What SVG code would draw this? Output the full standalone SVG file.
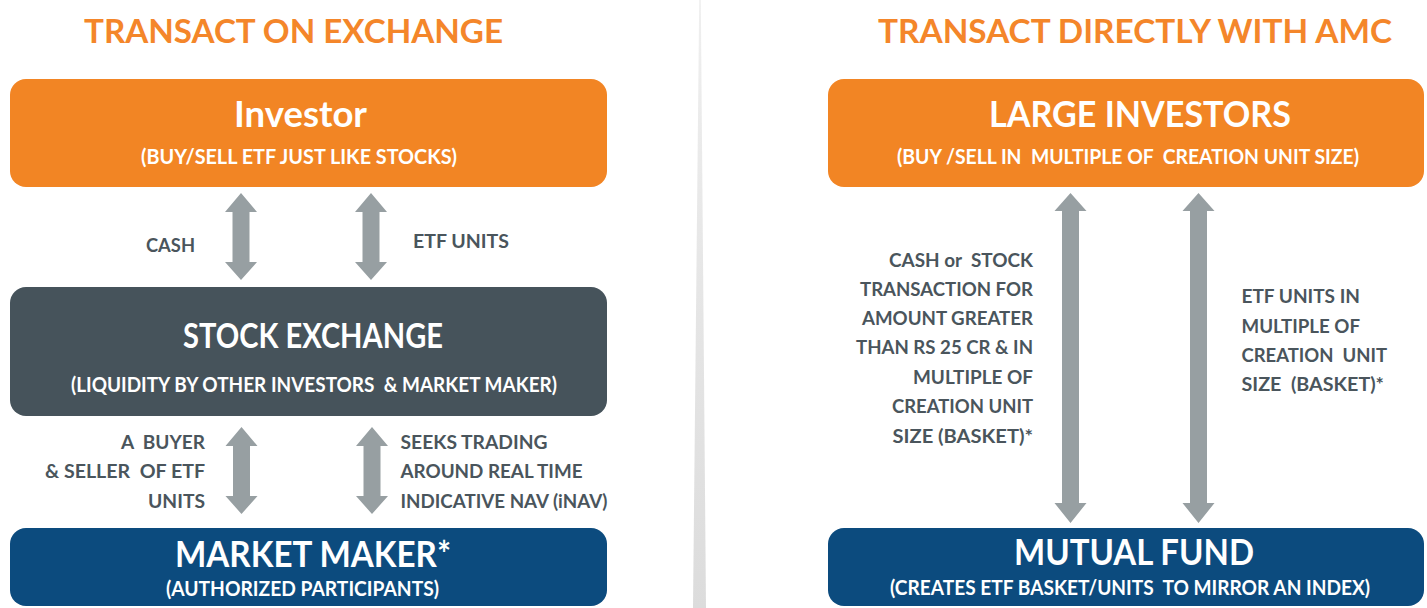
<svg xmlns="http://www.w3.org/2000/svg" width="1427" height="608" viewBox="0 0 1427 608">
<defs>
<style>
text{font-family:Lato,"Open Sans","Liberation Sans",sans-serif;font-weight:700;white-space:pre}
.ttl{font-size:33px;fill:#F4862A}
.hd{font-size:37px;fill:#FFFFFF}
.sub{font-size:20.5px;fill:#FFFFFF}
.lbl{font-size:19px;fill:#4A555C}
.arr{fill:#979FA2}
.or{fill:#F28524}
.gr{fill:#46535B}
.nv{fill:#0C4B7E}
</style>
<linearGradient id="dv" x1="0" y1="0" x2="0" y2="1">
<stop offset="0" stop-color="#EFEFEF"/>
<stop offset="1" stop-color="#DCDCDC"/>
</linearGradient>
</defs>
<rect width="1427" height="608" fill="#FFFFFF"/>
<polygon points="699.2,0 700.8,0 706,608 693,608" fill="url(#dv)"/>
<text class="ttl" x="293.5" y="43" text-anchor="middle" textLength="419" lengthAdjust="spacingAndGlyphs">TRANSACT ON EXCHANGE</text>
<text class="ttl" x="1135" y="43" text-anchor="middle" textLength="514" lengthAdjust="spacingAndGlyphs">TRANSACT DIRECTLY WITH AMC</text>

<g id="investor">
<rect class="or" x="10" y="79" width="597" height="108" rx="16"/>
<text class="hd" x="234" y="127" textLength="133" lengthAdjust="spacingAndGlyphs">Investor</text>
<text class="sub" x="141" y="164" textLength="316" lengthAdjust="spacingAndGlyphs">(BUY/SELL ETF JUST LIKE STOCKS)</text>
</g>
<g id="stock-exchange">
<rect class="gr" x="10" y="287" width="597" height="129" rx="16"/>
<text class="hd" x="183" y="348" style="font-size:34px" textLength="260" lengthAdjust="spacingAndGlyphs">STOCK EXCHANGE</text>
<text class="sub" x="71" y="392" xml:space="preserve" textLength="486" lengthAdjust="spacingAndGlyphs">(LIQUIDITY BY OTHER INVESTORS  &amp; MARKET MAKER)</text>
</g>
<g id="market-maker">
<rect class="nv" x="10" y="528" width="597" height="78" rx="16"/>
<text class="hd" x="175" y="567" textLength="276" lengthAdjust="spacingAndGlyphs">MARKET MAKER*</text>
<text class="sub" x="166" y="596" textLength="273" lengthAdjust="spacingAndGlyphs">(AUTHORIZED PARTICIPANTS)</text>
</g>
<g id="large-investors">
<rect class="or" x="828" y="79" width="596" height="108" rx="16"/>
<text class="hd" x="989" y="127" textLength="302" lengthAdjust="spacingAndGlyphs">LARGE INVESTORS</text>
<text class="sub" x="897" y="164" xml:space="preserve" textLength="462" lengthAdjust="spacingAndGlyphs">(BUY /SELL IN  MULTIPLE OF  CREATION UNIT SIZE)</text>
</g>
<g id="mutual-fund">
<rect class="nv" x="828" y="528" width="596" height="78" rx="16"/>
<text class="hd" x="1014" y="565" textLength="240" lengthAdjust="spacingAndGlyphs">MUTUAL FUND</text>
<text class="sub" x="890" y="595" xml:space="preserve" textLength="480" lengthAdjust="spacingAndGlyphs">(CREATES ETF BASKET/UNITS  TO MIRROR AN INDEX)</text>
</g>

<g id="connectors">
<path class="arr" d="M241,193 L257,212 L249.5,212 L249.5,262 L257,262 L241,280 L225,262 L232.5,262 L232.5,212 L225,212 Z"/>
<path class="arr" d="M371,193 L387,212 L379.5,212 L379.5,262 L387,262 L371,280 L355,262 L362.5,262 L362.5,212 L355,212 Z"/>
<path class="arr" d="M241.5,427 L257.5,446 L250,446 L250,496 L257.5,496 L241.5,514 L225.5,496 L233,496 L233,446 L225.5,446 Z"/>
<path class="arr" d="M372,427 L388,446 L380.5,446 L380.5,496 L388,496 L372,514 L356,496 L363.5,496 L363.5,446 L356,446 Z"/>
<path class="arr" d="M1070.5,193 L1086.5,211 L1079,211 L1079,503 L1086.5,503 L1070.5,523 L1054.5,503 L1062,503 L1062,211 L1054.5,211 Z"/>
<path class="arr" d="M1198.5,193 L1214.5,211 L1207,211 L1207,503 L1214.5,503 L1198.5,523 L1182.5,503 L1190,503 L1190,211 L1182.5,211 Z"/>
<text class="lbl" x="146" y="252" textLength="49" lengthAdjust="spacingAndGlyphs">CASH</text>
<text class="lbl" x="413" y="248" textLength="96" lengthAdjust="spacingAndGlyphs">ETF UNITS</text>
<text class="lbl" x="121" y="449" xml:space="preserve" textLength="84" lengthAdjust="spacingAndGlyphs">A  BUYER</text>
<text class="lbl" x="45" y="478" xml:space="preserve" textLength="160" lengthAdjust="spacingAndGlyphs">&amp; SELLER  OF ETF</text>
<text class="lbl" x="148" y="508" textLength="57" lengthAdjust="spacingAndGlyphs">UNITS</text>
<text class="lbl" x="400.5" y="449" textLength="147" lengthAdjust="spacingAndGlyphs">SEEKS TRADING</text>
<text class="lbl" x="400.5" y="478" textLength="182" lengthAdjust="spacingAndGlyphs">AROUND REAL TIME</text>
<text class="lbl" x="400.5" y="508" textLength="207" lengthAdjust="spacingAndGlyphs">INDICATIVE NAV (iNAV)</text>
<text class="lbl" x="889" y="267" xml:space="preserve" textLength="144" lengthAdjust="spacingAndGlyphs">CASH or  STOCK</text>
<text class="lbl" x="860" y="296" textLength="173" lengthAdjust="spacingAndGlyphs">TRANSACTION FOR</text>
<text class="lbl" x="862" y="325" textLength="171" lengthAdjust="spacingAndGlyphs">AMOUNT GREATER</text>
<text class="lbl" x="856" y="354" textLength="177" lengthAdjust="spacingAndGlyphs">THAN RS 25 CR &amp; IN</text>
<text class="lbl" x="913" y="384" textLength="120" lengthAdjust="spacingAndGlyphs">MULTIPLE OF</text>
<text class="lbl" x="892" y="413" textLength="141" lengthAdjust="spacingAndGlyphs">CREATION UNIT</text>
<text class="lbl" x="892.5" y="443" textLength="140.5" lengthAdjust="spacingAndGlyphs">SIZE (BASKET)*</text>
<text class="lbl" x="1241.5" y="303" textLength="118.5" lengthAdjust="spacingAndGlyphs">ETF UNITS IN</text>
<text class="lbl" x="1241.5" y="332.5" textLength="118.5" lengthAdjust="spacingAndGlyphs">MULTIPLE OF</text>
<text class="lbl" x="1241.5" y="361.5" xml:space="preserve" textLength="145.5" lengthAdjust="spacingAndGlyphs">CREATION  UNIT</text>
<text class="lbl" x="1241.5" y="390.5" xml:space="preserve" textLength="142.5" lengthAdjust="spacingAndGlyphs">SIZE  (BASKET)*</text>
</g>
</svg>
